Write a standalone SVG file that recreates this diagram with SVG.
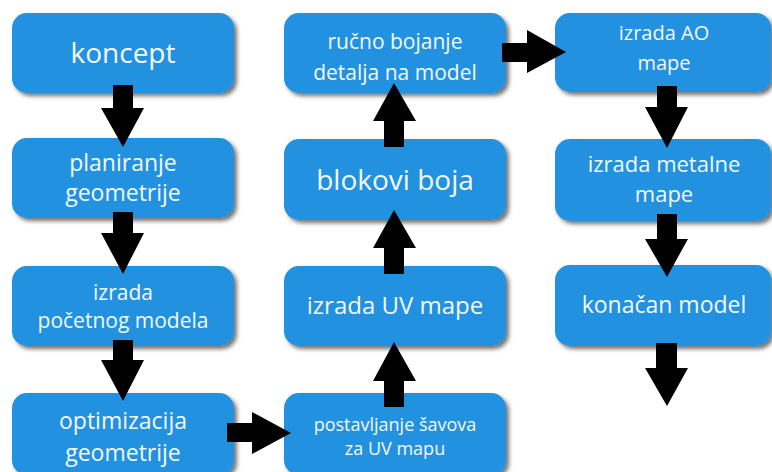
<svg xmlns="http://www.w3.org/2000/svg" width="772" height="472" viewBox="0 0 772 472">
<defs>
<filter id="sh" x="-10%" y="-10%" width="125%" height="135%">
<feDropShadow dx="3" dy="3" stdDeviation="2" flood-color="#000" flood-opacity="0.55"/>
</filter>
<style>
.box{fill:#2391df;filter:url(#sh)}
.t{font-family:"Open Sans","Noto Sans",sans-serif;fill:#f4f8fc;text-anchor:middle}
.arr{fill:#000}
</style>
</defs>
<rect width="772" height="472" fill="#fff"/>
<g id="n-koncept"><rect class="box" x="12" y="13" width="222" height="80" rx="15"/><text class="t" x="123" y="63" font-size="28">koncept</text></g>
<g id="n-planiranje"><rect class="box" x="12" y="138" width="222" height="80" rx="15"/><text class="t" x="123" y="171" font-size="23">planiranje</text><text class="t" x="123" y="201" font-size="23">geometrije</text></g>
<g id="n-izrada-pocetnog"><rect class="box" x="12" y="266" width="222" height="80" rx="15"/><text class="t" x="123" y="300" font-size="21">izrada</text><text class="t" x="123" y="328" font-size="21">početnog modela</text></g>
<g id="n-optimizacija"><rect class="box" x="12" y="393" width="222" height="82" rx="15"/><text class="t" x="123" y="429" font-size="23">optimizacija</text><text class="t" x="123" y="461" font-size="23">geometrije</text></g>
<g id="n-postavljanje"><rect class="box" x="284" y="393" width="222" height="82" rx="15"/><text class="t" x="395" y="431" font-size="18">postavljanje šavova</text><text class="t" x="395" y="455" font-size="18">za UV mapu</text></g>
<g id="n-uv"><rect class="box" x="284" y="266" width="222" height="80" rx="15"/><text class="t" x="395" y="314" font-size="24">izrada UV mape</text></g>
<g id="n-blokovi"><rect class="box" x="284" y="139" width="222" height="81" rx="15"/><text class="t" x="395" y="190" font-size="28">blokovi boja</text></g>
<g id="n-rucno"><rect class="box" x="284" y="13" width="222" height="80" rx="15"/><text class="t" x="395" y="49" font-size="21">ručno bojanje</text><text class="t" x="395" y="80" font-size="21">detalja na model</text></g>
<g id="n-ao"><rect class="box" x="555" y="13" width="216" height="79" rx="15"/><text class="t" x="664" y="40" font-size="20">izrada AO</text><text class="t" x="664" y="70" font-size="20">mape</text></g>
<g id="n-metalne"><rect class="box" x="555" y="139" width="216" height="82" rx="15"/><text class="t" x="664" y="172" font-size="22">izrada metalne</text><text class="t" x="664" y="202" font-size="22">mape</text></g>
<g id="n-konacan"><rect class="box" x="555" y="265" width="216" height="81" rx="15"/><text class="t" x="664" y="313" font-size="23">konačan model</text></g>
<g id="connectors" class="arr">
<polygon points="113,85 133,85 133,108 144,108 123,147 101,108 113,108"/>
<polygon points="113,212 133,212 133,233 144,233 123,274 101,233 113,233"/>
<polygon points="113,340 133,340 133,360 144,360 123,401 101,360 113,360"/>
<polygon points="227,423 252,423 252,412 291,433 252,454 252,442 227,442"/>
<polygon points="384,407 404,407 404,381 416,381 394,342 373,381 384,381"/>
<polygon points="384,274 404,274 404,248 416,248 394,210 373,248 384,248"/>
<polygon points="384,147 404,147 404,121 416,121 394,83 373,121 384,121"/>
<polygon points="502,43 527,43 527,30 566,52 527,73 527,62 502,62"/>
<polygon points="657,86 677,86 677,107 688,107 667,148 645,107 657,107"/>
<polygon points="657,214 677,214 677,239 688,239 667,277 645,239 657,239"/>
<polygon points="656,343 677,343 677,368 688,368 667,406 645,368 656,368"/>
</g>
</svg>
